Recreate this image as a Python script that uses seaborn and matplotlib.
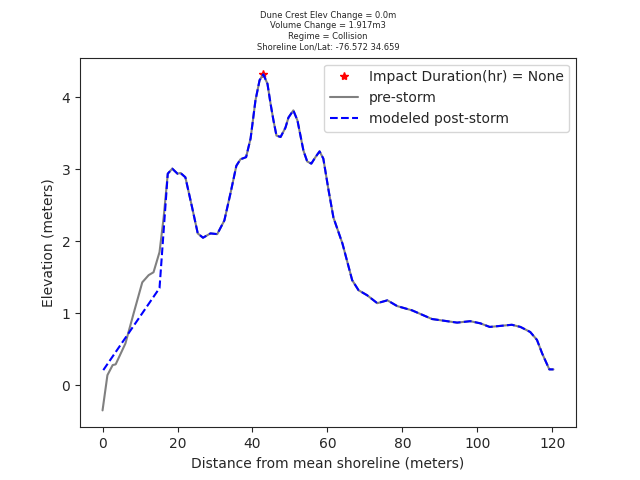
import matplotlib
matplotlib.use("Agg")
import matplotlib.pyplot as plt
import seaborn as sns
import pandas as pd

pre_x = [0, 1.3, 2.7, 3.5, 6.1, 8.3, 10.6, 12.3, 13.6, 15.2, 16.3, 17.4, 18.6, 20, 20.8, 22.1, 23.9, 25.4, 26.8,
         28.8, 30.6, 32.5, 34.1, 35.7, 36.8, 38.3, 39.5, 40.8, 41.9, 42.9, 44, 44.8, 45.6, 46.4, 47.5, 48.8,
         49.6, 50.9, 52, 53.6, 54.6, 55.7, 56.8, 57.9, 58.9, 60.3, 61.6, 64, 66.6, 68.3, 70.6, 73.3, 76, 78.6,
         82.6, 87.9, 94.6, 98.1, 100.8, 103.3, 109.2, 111.5, 114.1, 115.9, 117.3, 119.2, 120.3]
pre_y = [-0.35, 0.14, 0.28, 0.29, 0.58, 1.0, 1.43, 1.53, 1.57, 1.85, 2.33, 2.94, 3.01, 2.94, 2.95, 2.89, 2.47,
         2.11, 2.05, 2.11, 2.1, 2.29, 2.66, 3.05, 3.14, 3.17, 3.43, 3.96, 4.24, 4.32, 4.19, 3.92, 3.68, 3.47,
         3.45, 3.58, 3.72, 3.82, 3.68, 3.26, 3.11, 3.08, 3.17, 3.25, 3.15, 2.71, 2.33, 1.97, 1.46, 1.32, 1.25,
         1.14, 1.18, 1.10, 1.04, 0.92, 0.87, 0.89, 0.86, 0.81, 0.84, 0.81, 0.74, 0.63, 0.44, 0.22, 0.22]
post_x = [0.2, 15.2] + pre_x[11:]
post_y = [0.21, 1.35] + pre_y[11:]
peak_x = [42.9]
peak_y = [4.32]

sns.set_style("ticks")
plt.rcParams['font.family'] = ['DejaVu Sans']
fig, ax = plt.subplots(figsize=(6.4, 4.8), dpi=100)
ax.plot(peak_x, peak_y, '*', color='red', label='Impact Duration(hr) = None')
sns.lineplot(data=pd.DataFrame({'x': pre_x, 'y': pre_y}), x='x', y='y', color='gray', label='pre-storm', ax=ax, sort=False)
sns.lineplot(data=pd.DataFrame({'x': post_x, 'y': post_y}), x='x', y='y', color='blue', linestyle='--',
             label='modeled post-storm', ax=ax, sort=False)
ax.set_xlabel('Distance from mean shoreline (meters)')
ax.set_ylabel('Elevation (meters)')
ax.set_title('Dune Crest Elev Change = 0.0m\nVolume Change = 1.917m3\nRegime = Collision\nShoreline Lon/Lat: -76.572 34.659',
             fontsize=6)
ax.legend(loc='upper right')
ax.set_xticks([0, 20, 40, 60, 80, 100, 120])
ax.set_yticks([0, 1, 2, 3, 4])
fig.savefig('out.png', dpi=100)
